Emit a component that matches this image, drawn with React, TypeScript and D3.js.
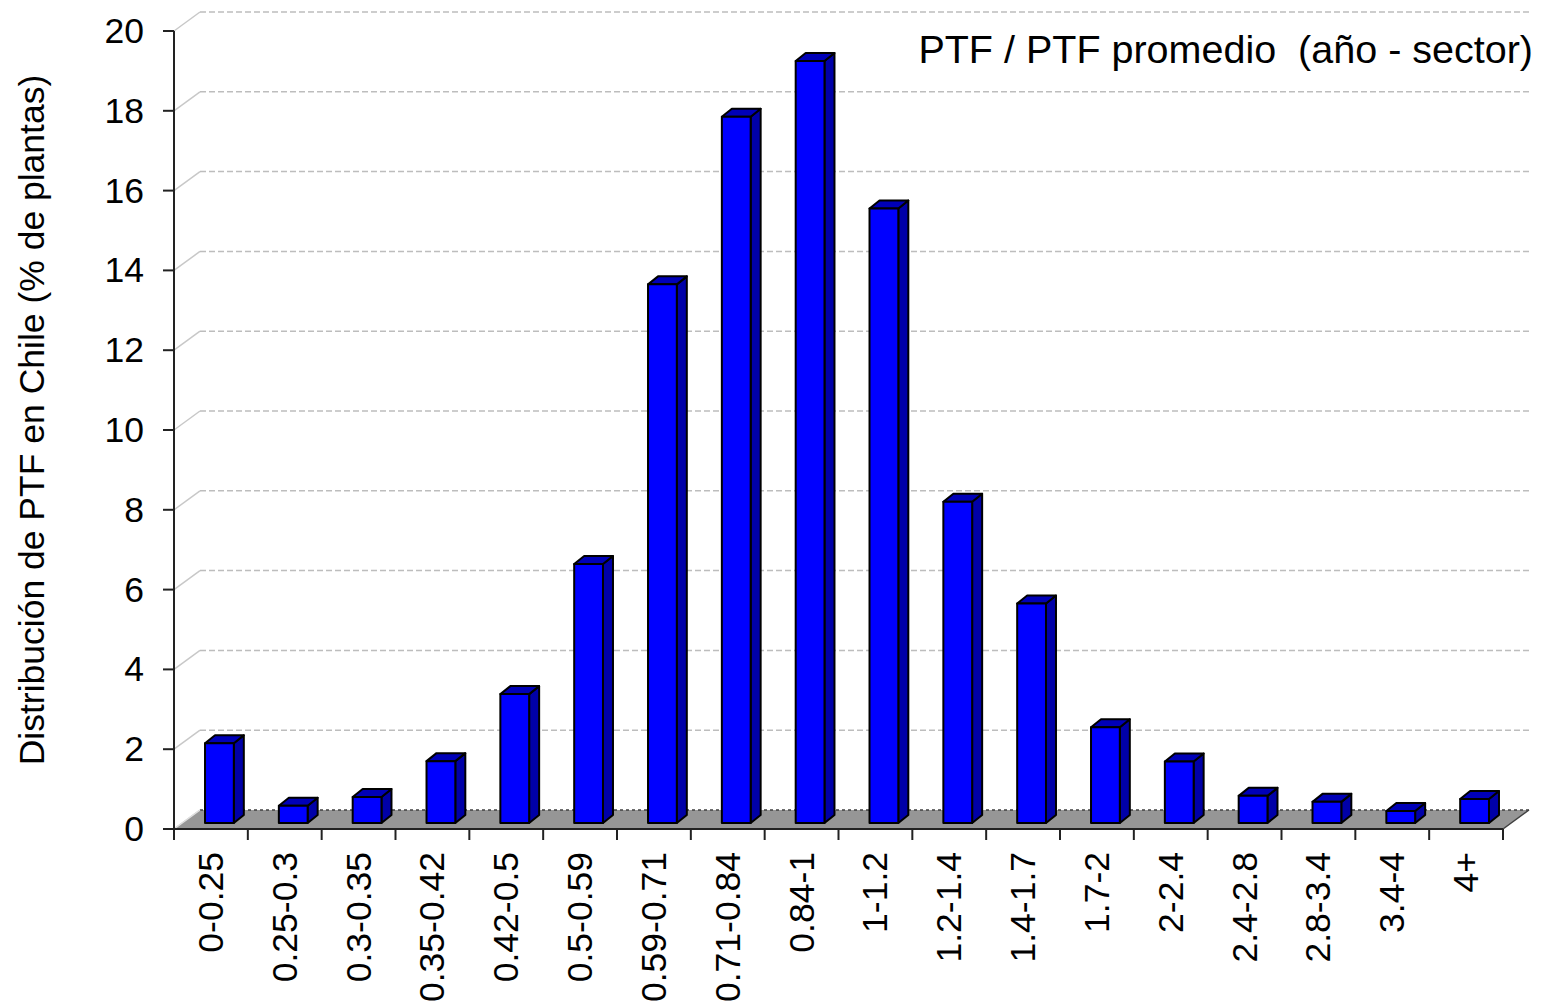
import * as d3 from "d3";

const categories = [
  "0-0.25", "0.25-0.3", "0.3-0.35", "0.35-0.42", "0.42-0.5", "0.5-0.59",
  "0.59-0.71", "0.71-0.84", "0.84-1", "1-1.2", "1.2-1.4", "1.4-1.7",
  "1.7-2", "2-2.4", "2.4-2.8", "2.8-3.4", "3.4-4", "4+",
];
const shares = [
  2.0, 0.43, 0.65, 1.55, 3.23, 6.49, 13.5, 17.7, 19.1, 15.4, 8.05, 5.5,
  2.4, 1.54, 0.68, 0.53, 0.3, 0.6,
];
const yTicks = [0, 2, 4, 6, 8, 10, 12, 14, 16, 18, 20];

const W = 1541;
const H = 1004;
const left = 174;
const right = 1503;
const top = 31;
const bottom = 829;
// 3D depth of the floor / back wall
const depthX = 26;
const depthY = -19;
// bar placement inside the depth, and bar own depth
const barShiftX = 8.5;
const barShiftY = -6;
const barDX = 10;
const barDY = -8;

const font = "'Liberation Sans', Arial, sans-serif";

export default function App() {
  const x = d3.scaleBand<string>().domain(categories).range([left, right]);
  const y = d3.scaleLinear().domain([0, 20]).range([bottom, top]);
  const bw = x.bandwidth() * 0.39;

  const floor = [
    [left, bottom],
    [right, bottom],
    [right + depthX, bottom + depthY],
    [left + depthX, bottom + depthY],
  ];
  const poly = d3.line();

  return (
    <svg
      width={W}
      height={H}
      style={{ position: "absolute", left: 0, top: 0, background: "#fff" }}
      fontFamily={font}
    >
      {/* back wall gridlines */}
      {yTicks.map((t) => (
        <g key={t}>
          <line
            x1={left}
            y1={y(t)}
            x2={left + depthX}
            y2={y(t) + depthY}
            stroke="#c8c8c8"
            strokeWidth={1.5}
          />
          {t > 0 && (
            <line
              x1={left + depthX}
              y1={y(t) + depthY}
              x2={right + depthX}
              y2={y(t) + depthY}
              stroke="#bdbdbd"
              strokeWidth={1.5}
              strokeDasharray="6,3"
            />
          )}
        </g>
      ))}

      {/* floor */}
      <path d={(poly(floor as [number, number][]) ?? "") + "Z"} fill="#969696" />
      <line
        x1={left + depthX}
        y1={bottom + depthY}
        x2={right + depthX}
        y2={bottom + depthY}
        stroke="#404040"
        strokeWidth={1.5}
        strokeDasharray="3,3"
      />
      <line
        x1={left}
        y1={bottom}
        x2={left + depthX}
        y2={bottom + depthY}
        stroke="#e0e0e0"
        strokeWidth={1.5}
      />
      <line
        x1={right}
        y1={bottom}
        x2={right + depthX}
        y2={bottom + depthY}
        stroke="#404040"
        strokeWidth={1.5}
      />

      {/* bars */}
      {categories.map((c, i) => {
        const x0 = (x(c) ?? 0) + (x.bandwidth() - bw) / 2 + barShiftX;
        const y0 = bottom + barShiftY;
        const h = y(0) - y(shares[i]);
        const yt = y0 - h;
        const side: [number, number][] = [
          [x0 + bw, y0],
          [x0 + bw + barDX, y0 + barDY],
          [x0 + bw + barDX, yt + barDY],
          [x0 + bw, yt],
        ];
        const lid: [number, number][] = [
          [x0, yt],
          [x0 + barDX, yt + barDY],
          [x0 + bw + barDX, yt + barDY],
          [x0 + bw, yt],
        ];
        return (
          <g key={c} stroke="#000" strokeWidth={2} strokeLinejoin="round">
            <path d={(poly(side) ?? "") + "Z"} fill="#0000a8" />
            <path d={(poly(lid) ?? "") + "Z"} fill="#0000b8" />
            <rect x={x0} y={yt} width={bw} height={h} fill="#0000ff" />
          </g>
        );
      })}

      {/* y axis */}
      <line x1={left} y1={top} x2={left} y2={bottom} stroke="#222" strokeWidth={2} />
      {yTicks.map((t) => (
        <g key={t}>
          <line x1={left - 11} y1={y(t)} x2={left} y2={y(t)} stroke="#222" strokeWidth={2} />
          <text
            x={left - 30}
            y={y(t)}
            textAnchor="end"
            dominantBaseline="central"
            fontSize={35.5}
            fill="#000"
          >
            {t}
          </text>
        </g>
      ))}

      {/* x axis */}
      <line x1={left} y1={bottom} x2={right} y2={bottom} stroke="#222" strokeWidth={2} />
      {[...categories.map((c) => x(c) ?? 0), right].map((px, i) => (
        <line key={i} x1={px} y1={bottom} x2={px} y2={bottom + 11} stroke="#222" strokeWidth={2} />
      ))}
      {categories.map((c) => {
        const cx = (x(c) ?? 0) + x.bandwidth() / 2;
        return (
          <text
            key={c}
            transform={`translate(${cx},${bottom + 23}) rotate(-90)`}
            textAnchor="end"
            dominantBaseline="central"
            fontSize={35.5}
            fill="#000"
          >
            {c}
          </text>
        );
      })}

      {/* axis title */}
      <text
        transform={`translate(32,420) rotate(-90)`}
        textAnchor="middle"
        dominantBaseline="central"
        fontSize={35.5}
        fill="#000"
      >
        Distribución de PTF en Chile (% de plantas)
      </text>

      {/* inner label */}
      <text x={1533} y={63} textAnchor="end" fontSize={39.5} fill="#000">
        {"PTF / PTF promedio\u00a0 (año - sector)"}
      </text>
    </svg>
  );
}
